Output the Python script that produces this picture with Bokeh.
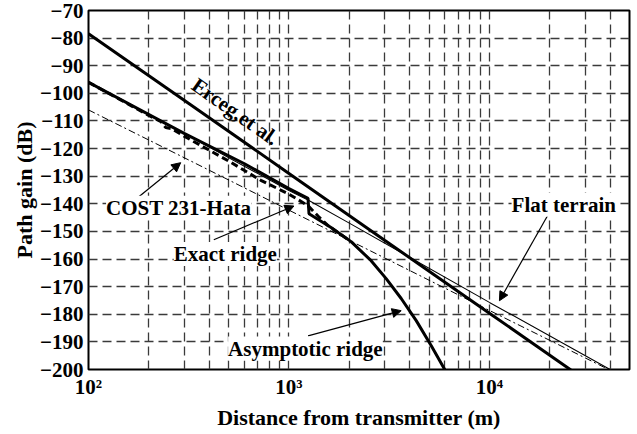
from bokeh.plotting import figure
from bokeh.models import Range1d, FixedTicker, Label, Arrow, NormalHead
from bokeh.embed import file_html
from bokeh.resources import INLINE

# ---------------- data ----------------
erceg_d = [100, 300, 1000, 3000, 10000, 25300, 30000]
erceg_v = [-78.4, -102.5, -129.0, -153.2, -179.6, -200.0, -203.7]

flat_d = [100, 300, 1000, 1245, 2000, 10000, 40000]
flat_v = [-96.0, -114.5, -135.2, -138.6, -147.0, -175.7, -200.0]

cost_d = [100, 300, 1000, 3000, 10000, 39300]
cost_v = [-106.0, -123.3, -142.3, -159.6, -178.6, -200.0]

asym_d = [100, 300, 600, 1000, 1245, 1259, 1622, 2042, 2570, 3055, 3631, 4315, 5129, 5957, 6457]
asym_v = [-96.0, -114.5, -125.5, -134.5, -138.0, -143.6, -148.6, -153.7, -160.6, -167.1,
          -174.3, -182.3, -191.4, -199.7, -204.4]

exact_d = [100, 200, 230, 243, 260, 300, 500, 724, 1000, 1245, 1400, 1567, 2000]
exact_v = [-96.0, -108.0, -110.3, -112.4, -112.8, -115.5, -124.5, -131.5, -136.5, -140.7, -144.5,
           -147.9, -153.3]

y_ticks = list(range(-200, -69, 10))
x_ticks = [100, 1000, 10000]
x_tick_labels = ["10²", "10³", "10⁴"]
x_minor = [m * 10 ** e for e in (2, 3, 4) for m in range(2, 10) if m * 10 ** e <= 50000]

# annotation texts and anchors (distance m, gain dB), rotation, white box
labels = [
    ("COST 231-Hata", 281.8, -141.4, 0, True),
    ("Exact ridge", 481.5, -158.2, 0, True),
    ("Asymptotic ridge", 1208, -192.4, 0, True),
    ("Flat terrain", 23500, -140.3, 0, True),
    ("Erceg,et al.", 540, -106.6, -35, False),
]
arrows = [  # (x_start, y_start, x_end, y_end)
    (175.8, -137.8, 288.4, -125.1),
    (421.7, -153.0, 1059, -140.8),
    (1245, -187.8, 3631, -178.7),
    (19498, -144.3, 11220, -175.1),
]

FONT = "Liberation Serif"

p = figure(width=637, height=434, x_axis_type="log",
           x_range=Range1d(100, 50000), y_range=Range1d(-200, -70),
           output_backend="svg", toolbar_location=None,
           min_border_left=88, min_border_right=8, min_border_top=10, min_border_bottom=65)

p.background_fill_color = "white"
p.border_fill_color = "white"
p.outline_line_color = "black"
p.outline_line_width = 2

p.xaxis.ticker = FixedTicker(ticks=x_ticks, minor_ticks=x_minor)
p.yaxis.ticker = FixedTicker(ticks=y_ticks)
p.xaxis.major_label_overrides = {t: s for t, s in zip(x_ticks, x_tick_labels)}

for ax in (p.xaxis[0], p.yaxis[0]):
    ax.axis_line_color = None
    ax.major_tick_line_color = None
    ax.minor_tick_line_color = None
    ax.major_tick_out = 0
    ax.minor_tick_out = 0
    ax.major_label_text_font = FONT
    ax.major_label_text_font_style = "bold"
    ax.major_label_text_font_size = "21px"
    ax.major_label_text_color = "black"
    ax.axis_label_text_font = FONT
    ax.axis_label_text_font_style = "bold"
    ax.axis_label_text_font_size = "22px"
    ax.axis_label_text_color = "black"

p.xaxis.axis_label = "Distance from transmitter (m)"
p.yaxis.axis_label = "Path gain (dB)"
p.xaxis.major_label_standoff = 5
p.xaxis.axis_label_standoff = 3
p.yaxis.major_label_standoff = 5
p.yaxis.axis_label_standoff = 0

GRID = "#3a3a3a"
p.xgrid.grid_line_color = GRID
p.xgrid.grid_line_dash = "9 5"
p.xgrid.grid_line_width = 1.3
p.xgrid.minor_grid_line_color = GRID
p.xgrid.minor_grid_line_dash = "9 5"
p.xgrid.minor_grid_line_width = 1.3
p.ygrid.grid_line_color = GRID
p.ygrid.grid_line_dash = "9 5"
p.ygrid.grid_line_width = 1.3

p.line(cost_d, cost_v, line_color="black", line_width=1, line_dash="7 3 2 3")
p.line(flat_d, flat_v, line_color="black", line_width=1.1)
p.line(asym_d, asym_v, line_color="black", line_width=3)
p.line(exact_d, exact_v, line_color="black", line_width=3, line_dash="7 4")
p.line(erceg_d, erceg_v, line_color="black", line_width=3)

for xs, ys, xe, ye in arrows:
    p.add_layout(Arrow(x_start=xs, y_start=ys, x_end=xe, y_end=ye,
                       line_color="black", line_width=1.2,
                       end=NormalHead(size=9, fill_color="black", line_color="black", line_width=1)))

for txt, x, y, ang, bg in labels:
    p.add_layout(Label(x=x, y=y, text=txt, text_font=FONT, text_font_style="bold",
                       text_font_size="21px", text_color="black",
                       text_align="center", text_baseline="middle",
                       angle=ang, angle_units="deg",
                       background_fill_color="white" if bg else None))

open("out.html", "w").write(file_html(p, INLINE))
